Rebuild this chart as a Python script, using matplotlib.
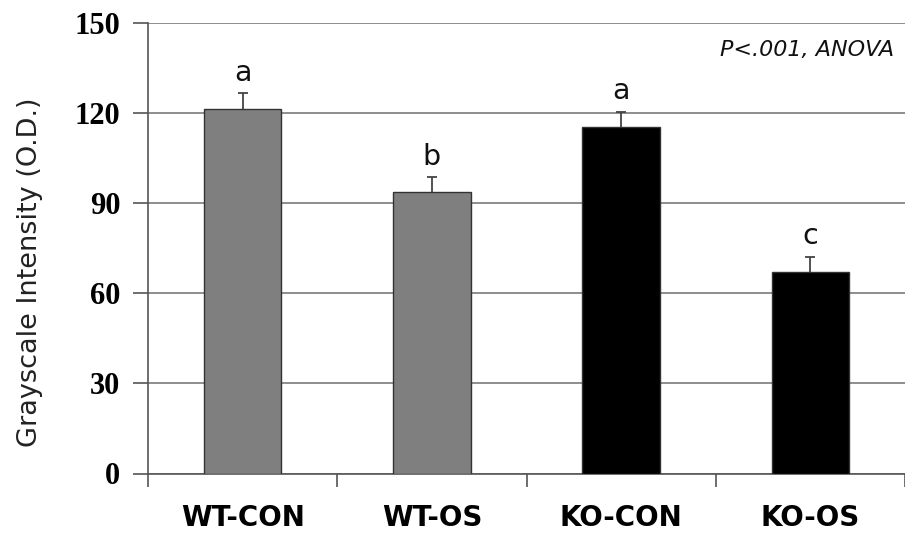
import numpy as np
from matplotlib import pyplot as plt

groups = ["WT-CON", "WT-OS", "KO-CON", "KO-OS"]
means = [121.1, 93.5, 115.3, 67.1]
errs = [5.3, 5.0, 5.0, 5.0]
letters = ["a", "b", "a", "c"]
colors = ["#7f7f7f", "#7f7f7f", "#000000", "#000000"]
yticks = [0, 30, 60, 90, 120, 150]

fig = plt.figure(figsize=(9.05, 5.35), dpi=100)
ax = fig.add_axes([148 / 905, 1 - 473.5 / 535, 1 - 148 / 905, 451 / 535])

x = np.arange(len(groups))
ax.bar(x, means, width=0.41, color=colors, edgecolor="#333333", linewidth=1.0, zorder=3)
eb = ax.errorbar(x, means, yerr=[np.zeros(len(errs)), errs], fmt="none",
                 ecolor="#444444", elinewidth=1.3, capsize=3.6, capthick=1.3, zorder=4)
# only the upper cap is drawn in the original
eb[1][0].set_visible(False)

for i in range(len(groups)):
    ax.text(x[i], means[i] + errs[i] + 4.2, letters[i], ha="center", va="baseline",
            fontsize=20.5, color="#111111")

ax.text(3.442, 141, "P<.001, ANOVA", ha="right", va="center", fontsize=16,
        style="italic", color="#111111")

ax.set_xlim(-0.5, 3.5 - 3 / 190)
ax.set_ylim(0, 150)
ax.set_yticks(yticks)
ax.set_yticklabels([str(t) for t in yticks], fontfamily="Liberation Serif",
                   fontweight="bold", fontsize=22)
ax.yaxis.grid(True, color="#7a7a7a", linewidth=1.2, zorder=0)
ax.tick_params(axis="y", length=11, width=1.2, color="#555555", pad=9)

ax.set_xticks(x)
ax.set_xticklabels(groups, fontweight="bold", fontsize=20)
ax.tick_params(axis="x", length=0, pad=22)
ax.set_xticks(np.arange(-0.5, 4.0, 1.0), minor=True)
ax.tick_params(axis="x", which="minor", length=9, width=1.2, color="#555555")

ax.spines["top"].set_visible(False)
ax.spines["right"].set_visible(False)
ax.spines["left"].set_color("#555555")
ax.spines["left"].set_linewidth(1.2)
ax.spines["bottom"].set_color("#555555")
ax.spines["bottom"].set_linewidth(1.2)

fig.text(30 / 905, 1 - 272 / 535, "Grayscale Intensity (O.D.)", rotation=90,
         ha="center", va="center", fontsize=19.5, color="#222222")

plt.savefig("out.png", dpi=100)
